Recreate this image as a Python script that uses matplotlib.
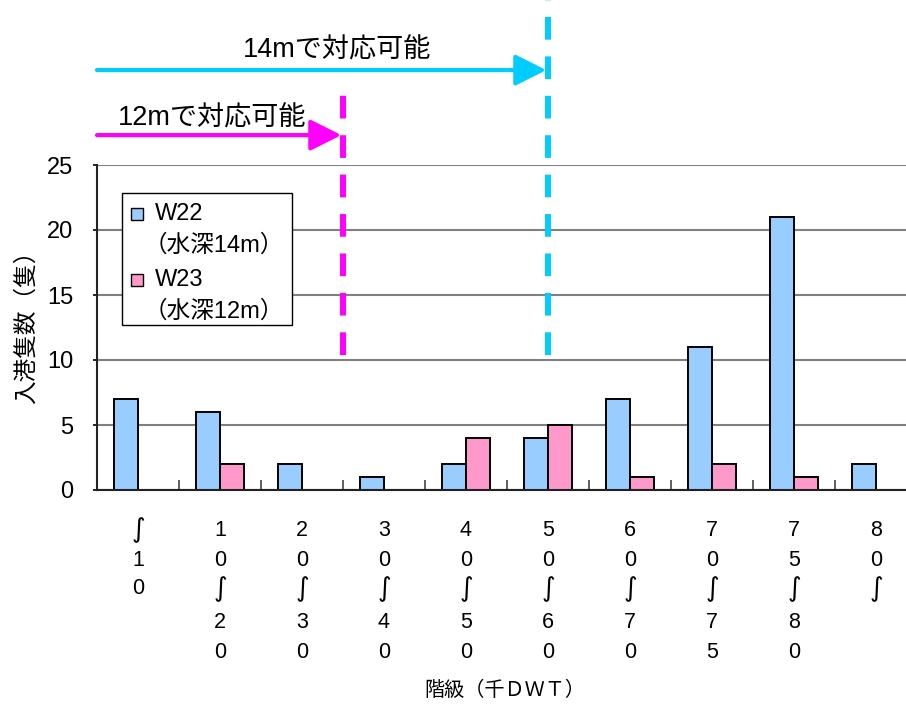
import matplotlib
matplotlib.use("Agg")
import matplotlib.pyplot as plt
from matplotlib.patches import Rectangle
from matplotlib.transforms import blended_transform_factory

plt.rcParams['font.family'] = ['Liberation Sans', 'Noto Sans CJK JP', 'DejaVu Sans']

# data
categories = ["～10", "10～20", "20～30", "30～40", "40～50",
              "50～60", "60～70", "70～75", "75～80", "80～"]
w22 = [7, 6, 2, 1, 2, 4, 7, 11, 21, 2]
w23 = [0, 2, 0, 0, 4, 5, 1, 2, 1, 0]
series_names = ["W22", "W23"]
series_notes = ["（水深14m）", "（水深12m）"]
yticks = [0, 5, 10, 15, 20, 25]

blue = "#99CCFF"
pink = "#FF99CC"
cyan = "#00CCFF"
magenta = "#FF00FF"

W, H = 906, 711
fig = plt.figure(figsize=(W / 100, H / 100), dpi=100)
# axes box in pixels: left 97, top 165, width 820, height 325
ax = fig.add_axes([97 / W, 1 - 490 / H, 820 / W, 325 / H])

x = list(range(len(categories)))
bw = 0.293
ax.bar([i - bw / 2 for i in x], w22, width=bw, color=blue,
       edgecolor="black", linewidth=1.4, zorder=3)
ax.bar([i + bw / 2 for i in x], w23, width=bw, color=pink,
       edgecolor="black", linewidth=1.4, zorder=3)

ax.set_xlim(-0.5, len(categories) - 0.5)
ax.set_ylim(0, 25)
ax.set_yticks(yticks)
ax.yaxis.grid(True, color="#808080", linewidth=1.5, zorder=0)
ax.set_axisbelow(True)
for s in ["top", "right"]:
    ax.spines[s].set_visible(False)
for s in ["left", "bottom"]:
    ax.spines[s].set_color("#222222")
    ax.spines[s].set_linewidth(1.5)
    ax.spines[s].set_zorder(4)
ax.tick_params(axis="y", direction="out", length=3, width=1.2,
               labelsize=17, pad=14)
ax.set_xticks([i + 0.5 for i in x[:-1]])
ax.set_xticklabels([])
ax.tick_params(axis="x", direction="in", length=7, width=1.2, color="#444444")

# vertical category labels
trans = blended_transform_factory(ax.transData, fig.transFigure)
row_y = [530, 560, 589, 623, 653]
for i, lab in enumerate(categories):
    for r, ch in enumerate(lab):
        if ch == "～":
            ax.text(i, 1 - row_y[r] / H, "∫", transform=trans, ha="center",
                    va="center", fontsize=19, family=["DejaVu Sans"])
        else:
            ax.text(i, 1 - row_y[r] / H, ch, transform=trans, ha="center",
                    va="center", fontsize=15.5)

fig.text(505 / W, 1 - 690 / H, "階級（千ＤＷＴ）", ha="center", va="center",
         fontsize=14.5)
fig.text(27 / W, 1 - 321 / H, "入港隻数（隻）", ha="center", va="center",
         rotation=90, fontsize=17)

# depth limits: dashed lines and arrows
ax.plot([2.5, 2.5], [10.4, 30.8], color=magenta, linewidth=4.3,
        linestyle=(0, (3.8, 2.8)), clip_on=False, zorder=5)
ax.plot([5.0, 5.0], [10.4, 37.9], color=cyan, linewidth=4.3,
        linestyle=(0, (3.8, 2.8)), clip_on=False, zorder=5)

ax.annotate("", xy=(4.98, 32.3), xytext=(-0.5, 32.3),
            arrowprops=dict(arrowstyle="-|>,head_length=19,head_width=9.5",
                            mutation_scale=1, color=cyan, lw=3,
                            shrinkA=0, shrinkB=0),
            annotation_clip=False)
ax.annotate("", xy=(2.48, 27.3), xytext=(-0.5, 27.3),
            arrowprops=dict(arrowstyle="-|>,head_length=19,head_width=9.5",
                            mutation_scale=1, color=magenta, lw=3,
                            shrinkA=0, shrinkB=0),
            annotation_clip=False)
fig.text(337 / W, 1 - 50 / H, "14mで対応可能", ha="center", va="center",
         fontsize=19.5)
fig.text(212 / W, 1 - 118 / H, "12mで対応可能", ha="center", va="center",
         fontsize=19.5)

# legend box
fig.patches.append(Rectangle((122 / W, 1 - 325 / H), 170 / W, 132 / H,
                             transform=fig.transFigure, facecolor="white",
                             edgecolor="black", linewidth=1.0, zorder=6))
legend_y = [(214, 246), (280, 312)]
for (ty, ny), col, name, note in zip(legend_y, [blue, pink], series_names,
                                      series_notes):
    fig.patches.append(Rectangle((131 / W, 1 - (ty + 6) / H), 12 / W, 12 / H,
                                 transform=fig.transFigure, facecolor=col,
                                 edgecolor="black", linewidth=1.0, zorder=7))
    fig.text(155 / W, 1 - ty / H, name, ha="left", va="center",
             fontsize=17, zorder=8)
    fig.text(144 / W, 1 - ny / H, note, ha="left", va="center",
             fontsize=17, zorder=8)

fig.savefig("out.png", dpi=100)
